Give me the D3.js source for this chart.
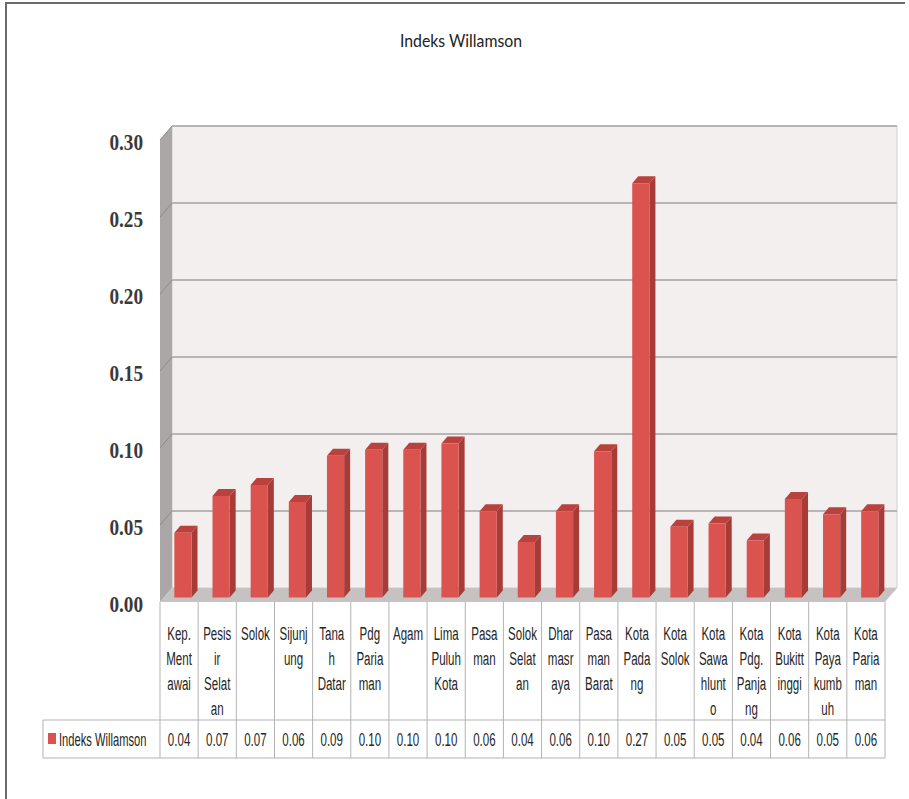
<!DOCTYPE html>
<meta charset="utf-8">
<style>
body { margin: 0; background: #fff; }
.tbl line { stroke: #b3b3b3; stroke-width: 1px; }
.cell { font-family: "Liberation Sans", Arial, sans-serif; font-size: 18px; fill: #262626; }
</style>
<body>
<script src="https://cdn.jsdelivr.net/npm/d3@7"></script>
<script>

// data
var categories = ["Kep. Mentawai", "Pesisir Selatan", "Solok", "Sijunjung", "Tanah Datar",
  "Pdg Pariaman", "Agam", "Lima Puluh Kota", "Pasaman", "Solok Selatan", "Dharmasraya",
  "Pasaman Barat", "Kota Padang", "Kota Solok", "Kota Sawahlunto", "Kota Pdg. Panjang",
  "Kota Bukittinggi", "Kota Payakumbuh", "Kota Pariaman"];

// how the names wrap inside the narrow table cells
var labelLines = [["Kep.", "Ment", "awai"], ["Pesis", "ir", "Selat", "an"], ["Solok"],
  ["Sijunj", "ung"], ["Tana", "h", "Datar"], ["Pdg", "Paria", "man"], ["Agam"],
  ["Lima", "Puluh", "Kota"], ["Pasa", "man"], ["Solok", "Selat", "an"], ["Dhar", "masr", "aya"],
  ["Pasa", "man", "Barat"], ["Kota", "Pada", "ng"], ["Kota", "Solok"], ["Kota", "Sawa", "hlunt", "o"],
  ["Kota", "Pdg.", "Panja", "ng"], ["Kota", "Bukitt", "inggi"], ["Kota", "Paya", "kumb", "uh"],
  ["Kota", "Paria", "man"]];

var williamson = [0.042, 0.066, 0.073, 0.062, 0.092, 0.096, 0.096, 0.100, 0.056, 0.036, 0.056,
  0.095, 0.269, 0.046, 0.048, 0.037, 0.064, 0.054, 0.056];

var yTicks = [0, 0.05, 0.10, 0.15, 0.20, 0.25, 0.30];
var seriesName = "Indeks Willamson";

var W = 909, H = 799;
// front plane of the 3d box, depth offset to the back wall
var boxLeft = 160, boxRight = 885, boxBottom = 602, boxTop = 140;
var dx = 12, dy = -14;
var rowTop = 720, rowBottom = 758, legendLeft = 43;

var svg = d3.select("body").append("svg")
    .attr("width", W)
    .attr("height", H);

// outer frame
svg.append("path")
    .attr("d", "M6," + H + "V3H905")
    .attr("fill", "none")
    .attr("stroke", "#6b6b6b")
    .attr("stroke-width", 2);

// title
svg.append("text")
    .attr("x", 461)
    .attr("y", 47)
    .attr("text-anchor", "middle")
    .attr("textLength", 122)
    .attr("lengthAdjust", "spacingAndGlyphs")
    .style("font-family", "Lato, sans-serif")
    .style("font-size", "18px")
    .style("fill", "#222")
    .text(seriesName);

var x = d3.scaleBand().domain(categories).range([boxLeft, boxRight]);
var xb = d3.scaleBand().domain(categories).range([boxLeft, boxRight])
    .paddingInner(0.55).paddingOuter(0.275);
var y = d3.scaleLinear().domain([0, 0.30]).range([boxBottom, boxTop]);

function pt(px, v, t) { return [px + dx * t, y(v) + dy * t]; }
function poly(pts) { return "M" + pts.map(function(p) { return p.join(","); }).join("L") + "Z"; }

// back wall
svg.append("path")
    .attr("d", poly([pt(boxLeft, 0.30, 1), pt(boxRight, 0.30, 1), pt(boxRight, 0, 1), pt(boxLeft, 0, 1)]))
    .attr("fill", "#f2efee")
    .attr("stroke", "#cfcfcf");

// side wall
svg.append("path")
    .attr("d", poly([pt(boxLeft, 0.30, 0), pt(boxLeft, 0.30, 1), pt(boxLeft, 0, 1), pt(boxLeft, 0, 0)]))
    .attr("fill", "#aba7a7");

// floor
svg.append("path")
    .attr("d", poly([pt(boxLeft, 0, 0), pt(boxLeft, 0, 1), pt(boxRight, 0, 1), pt(boxRight, 0, 0)]))
    .attr("fill", "#c6c2c2");

// gridlines
var grid = svg.append("g");
grid.selectAll(".gb").data(yTicks.slice(1)).enter().append("line")
    .attr("x1", function(d) { return pt(boxLeft, d, 1)[0]; })
    .attr("x2", function(d) { return pt(boxRight, d, 1)[0]; })
    .attr("y1", function(d) { return pt(boxLeft, d, 1)[1]; })
    .attr("y2", function(d) { return pt(boxRight, d, 1)[1]; })
    .attr("stroke", "#b7b5b5")
    .attr("stroke-width", 2);
grid.selectAll(".gs").data(yTicks.slice(1)).enter().append("line")
    .attr("x1", function(d) { return pt(boxLeft, d, 0)[0]; })
    .attr("x2", function(d) { return pt(boxLeft, d, 1)[0]; })
    .attr("y1", function(d) { return pt(boxLeft, d, 0)[1]; })
    .attr("y2", function(d) { return pt(boxLeft, d, 1)[1]; })
    .attr("stroke", "#8f8b8b")
    .attr("stroke-width", 1);

// 3d columns
var t1 = 0.32, t2 = 0.82;
var bars = svg.selectAll(".bar").data(williamson).enter().append("g");
bars.append("path")
    .attr("d", function(d, i) {
      var b = xb(categories[i]) + xb.bandwidth();
      return poly([pt(b, d, t1), pt(b, d, t2), pt(b, 0, t2), pt(b, 0, t1)]);
    })
    .attr("fill", "#a63b38");
bars.append("path")
    .attr("d", function(d, i) {
      var a = xb(categories[i]), b = a + xb.bandwidth();
      return poly([pt(a, d, t1), pt(b, d, t1), pt(b, d, t2), pt(a, d, t2)]);
    })
    .attr("fill", "#b9423e");
bars.append("path")
    .attr("d", function(d, i) {
      var a = xb(categories[i]), b = a + xb.bandwidth();
      return poly([pt(a, d, t1), pt(b, d, t1), pt(b, 0, t1), pt(a, 0, t1)]);
    })
    .attr("fill", "#db534f");

// y axis
var yAxis = svg.append("g")
    .attr("transform", "translate(" + (boxLeft - 17) + ",2)")
    .call(d3.axisLeft(y).tickValues(yTicks).tickFormat(d3.format(".2f")).tickSize(0));
yAxis.select(".domain").remove();
yAxis.selectAll("text")
    .attr("x", 0)
    .attr("transform", "scale(0.8,1)")
    .style("font-family", "'Liberation Serif', serif")
    .style("font-size", "24px")
    .style("font-weight", "bold")
    .style("fill", "#3a3a3a");

// data table
var tbl = svg.append("g").attr("class", "tbl");
var bounds = categories.map(function(c) { return x(c); }).concat([boxRight]);
tbl.selectAll(".v").data(bounds).enter().append("line")
    .attr("x1", function(d) { return d; })
    .attr("x2", function(d) { return d; })
    .attr("y1", boxBottom)
    .attr("y2", rowBottom);
tbl.append("line").attr("x1", legendLeft).attr("x2", legendLeft).attr("y1", rowTop).attr("y2", rowBottom);
tbl.append("line").attr("x1", legendLeft).attr("x2", boxRight).attr("y1", rowTop).attr("y2", rowTop);
tbl.append("line").attr("x1", legendLeft).attr("x2", boxRight).attr("y1", rowBottom).attr("y2", rowBottom);

var heads = tbl.selectAll(".head").data(labelLines).enter().append("g")
    .attr("transform", function(d, i) {
      return "translate(" + (x(categories[i]) + x.bandwidth() / 2) + ",0)";
    });
heads.selectAll("text").data(function(d) { return d; }).enter().append("text")
    .attr("class", "cell")
    .attr("text-anchor", "middle")
    .attr("transform", function(d, j) { return "translate(0," + (640 + j * 25) + ") scale(0.64,1)"; })
    .text(function(d) { return d; });

tbl.selectAll(".val").data(williamson).enter().append("text")
    .attr("class", "cell")
    .attr("text-anchor", "middle")
    .attr("transform", function(d, i) {
      return "translate(" + (x(categories[i]) + x.bandwidth() / 2) + ",746) scale(0.64,1)";
    })
    .text(d3.format(".2f"));

// legend key
tbl.append("rect")
    .attr("x", 48).attr("y", 733)
    .attr("width", 8).attr("height", 11)
    .attr("fill", "#db534f");
tbl.append("text")
    .attr("class", "cell")
    .attr("transform", "translate(59,746) scale(0.62,1)")
    .text(seriesName);

</script>
</body>
